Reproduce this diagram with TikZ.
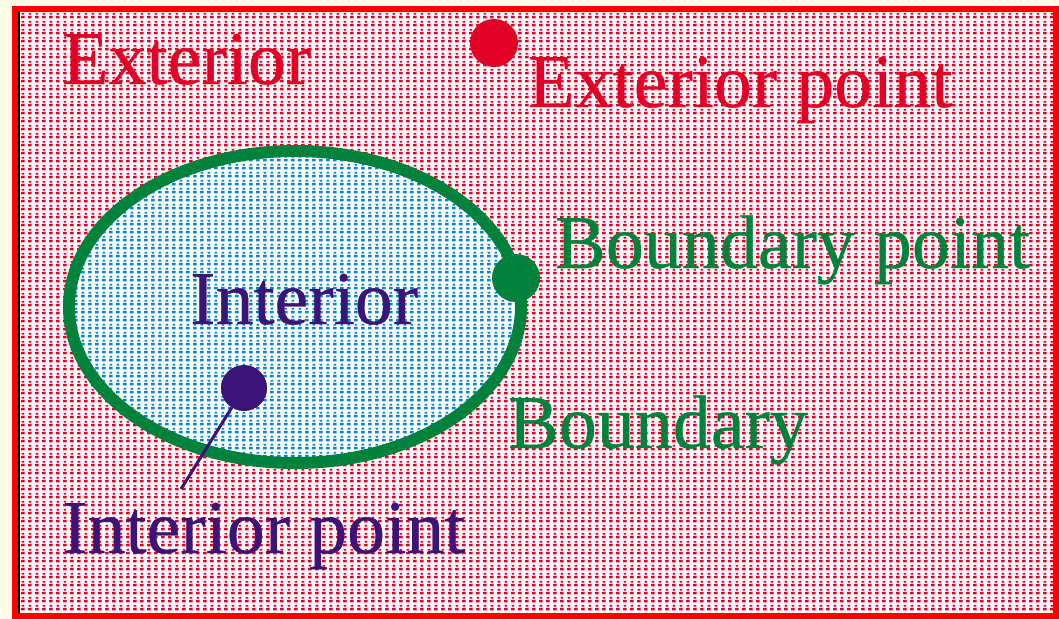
\documentclass[tikz,border=0pt]{standalone}
\usepackage{fontspec}
\setmainfont{Liberation Serif}
\newfontfamily\heavyserif{Liberation Serif}[FakeBold=0.4]
\usetikzlibrary{patterns}

\definecolor{paper}{RGB}{255,253,230}
\definecolor{framered}{RGB}{255,0,0}
\definecolor{extred}{RGB}{226,0,38}
\definecolor{bndgreen}{RGB}{0,130,60}
\definecolor{intpurple}{RGB}{60,20,120}
\definecolor{intblue}{RGB}{0,135,205}

% halftone dots
\pgfdeclarepatternformonly{halftone}{\pgfqpoint{0pt}{0pt}}{\pgfqpoint{6.6pt}{8pt}}{\pgfqpoint{6.6pt}{8pt}}{%
  \pgfpathrectangle{\pgfqpoint{1.2pt}{0.6pt}}{\pgfqpoint{3.6pt}{3pt}}%
  \pgfpathrectangle{\pgfqpoint{1.6pt}{4.8pt}}{\pgfqpoint{2.8pt}{2pt}}%
  \pgfusepath{fill}}

\begin{document}
\begin{tikzpicture}[x=1pt,y=-1pt,
  areatext/.style={font=\heavyserif\fontsize{76}{80}\selectfont, anchor=base west, inner sep=0pt},
  dotnode/.style={circle, inner sep=0pt, minimum size=48pt}
]
\fill[paper] (0,0) rectangle (1059,618);
\useasboundingbox (0,0) rectangle (1059,618);

% exterior region
\fill[white] (15,9) rectangle (1056,616);
\fill[pattern=halftone, pattern color=extred] (15,9) rectangle (1056,616);
\draw[framered, line width=6pt] (15,9) rectangle (1056,616);
\draw[black, line width=2pt] (19,12) -- (19,613);

% interior and boundary
\fill[white] (295,307) ellipse [x radius=226, y radius=156];
\fill[pattern=halftone, pattern color=intblue] (295,307) ellipse [x radius=226, y radius=156];
\draw[bndgreen, line width=12pt] (295,307) ellipse [x radius=226, y radius=156];

% points
\node[dotnode, fill=extred] (extpt) at (494,43) {};
\node[dotnode, fill=bndgreen] (bndpt) at (516,278) {};
\node[dotnode, fill=intpurple, minimum size=46pt] (intpt) at (244,388) {};

% labels
\node[areatext, text=extred] (exterior) at (62,84) {Exterior};
\node[areatext, text=extred] (extlabel) at (528,107) {Exterior point};
\node[areatext, text=bndgreen] (bndlabel) at (555,268) {Boundary point};
\node[areatext, text=intpurple] (interior) at (190,324) {Interior};
\node[areatext, text=bndgreen] (boundary) at (508,448) {Boundary};
\node[areatext, text=intpurple] (intlabel) at (62,553) {Interior point};

\coordinate (inttail) at (181,489);
\draw[intpurple, line width=3pt] (intpt) -- (inttail);
\end{tikzpicture}
\end{document}
